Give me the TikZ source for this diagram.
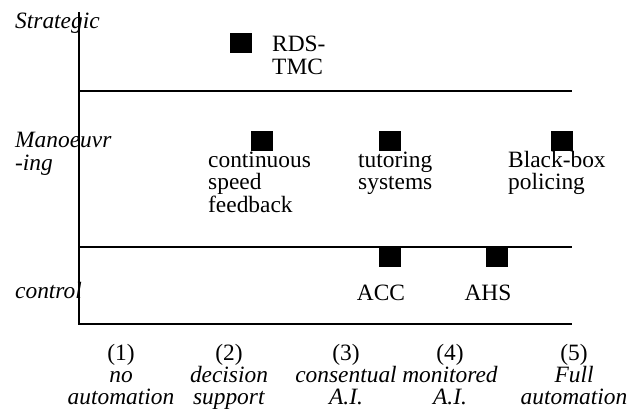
\documentclass[tikz,border=0pt]{standalone}
\usepackage{fontspec}
\setmainfont{Liberation Serif}
\usetikzlibrary{positioning}
\tikzset{
    axisline/.style={line width=2.6pt},
    sysbox/.style={fill=black, minimum width=22pt, minimum height=20pt, inner sep=0pt},
    txt/.style={font=\fontsize{23.4}{22.5}\selectfont, inner sep=0pt, align=left},
    lvl/.style={font=\fontsize{23.4}{22.5}\selectfont\itshape, inner sep=0pt, align=left},
    degree/.style={font=\fontsize{23.4}{22}\selectfont, inner sep=0pt, align=center}
}

\begin{document}
\begin{tikzpicture}[x=1pt, y=-1pt]
    \useasboundingbox (0,0) rectangle (628,413);
    % axes and level borders
    \coordinate (top) at (79,12);
    \coordinate (o) at (79,324);
    \coordinate (oe) at (572,324);
    \coordinate (s1) at (79,91);
    \coordinate (e1) at (572,91);
    \coordinate (s2) at (79,247);
    \coordinate (e2) at (572,247);
    \draw[axisline] (top) -- (o) -- (oe);
    \draw[axisline] (s1) -- (e1);
    \draw[axisline] (s2) -- (e2);
    % levels (base = last line)
    \node[lvl, anchor=base west] (strat) at (15,28) {Strategic};
    \node[lvl, anchor=base west] (manv) at (15,170) {Manoeuvr\\-ing};
    \node[lvl, anchor=base west] (ctrl) at (15,298) {control};
    % systems
    \node[sysbox] (rds) at (241,43) {};
    \node[txt, anchor=base west] (rdst) at (272,74) {RDS-\\TMC};
    \node[sysbox] (csf) at (262,141) {};
    \node[txt, anchor=base west] (csft) at (208,212) {continuous\\speed\\feedback};
    \node[sysbox] (tut) at (390,141) {};
    \node[txt, anchor=base west] (tutt) at (358,189.5) {tutoring\\systems};
    \node[sysbox] (bbp) at (562,141) {};
    \node[txt, anchor=base west] (bbpt) at (508,189.5) {Black-box\\policing};
    \node[sysbox] (acc) at (390,257) {};
    \node[txt, anchor=base] (acct) at (381,300) {ACC};
    \node[sysbox] (ahs) at (497,257) {};
    \node[txt, anchor=base] (ahst) at (488,300) {AHS};
    % degrees of automation
    \node[degree, anchor=base] (d1) at (121,404) {(1)\\\textit{no}\\\textit{automation}};
    \node[degree, anchor=base] (d2) at (229,404) {(2)\\\textit{decision}\\\textit{support}};
    \node[degree, anchor=base] (d3) at (346,404) {(3)\\\textit{consentual}\\\textit{A.I.}};
    \node[degree, anchor=base] (d4) at (450,404) {(4)\\\textit{monitored}\\\textit{A.I.}};
    \node[degree, anchor=base] (d5) at (574,404) {(5)\\\textit{Full}\\\textit{automation}};
\end{tikzpicture}
\end{document}
